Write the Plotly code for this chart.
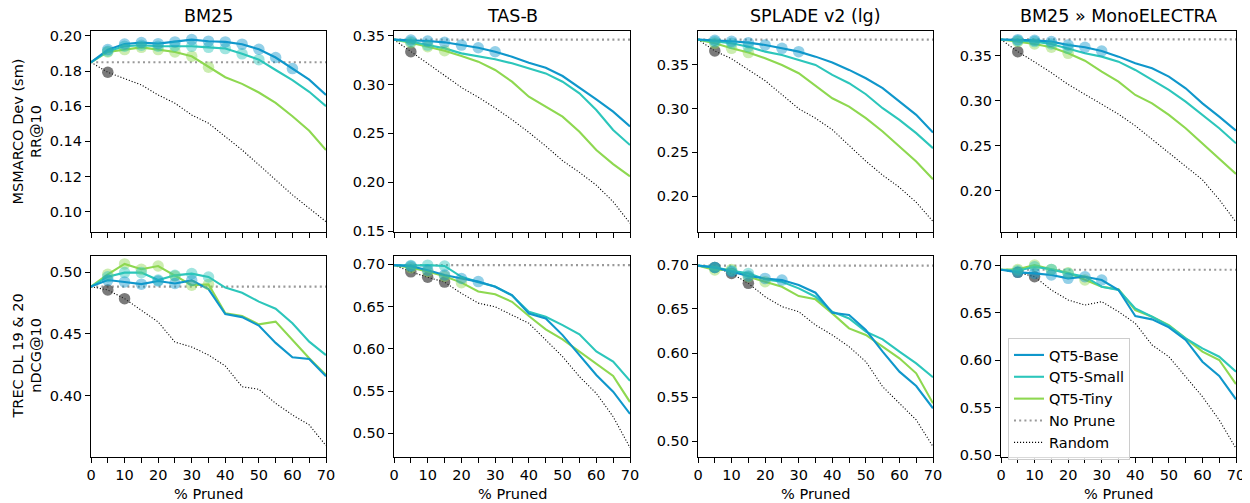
import plotly.graph_objects as go

# ---------------- data ----------------
x_pruned = [0, 5, 10, 15, 20, 25, 30, 35, 40, 45, 50, 55, 60, 65, 70]
col_titles = ["BM25", "TAS-B", "SPLADE v2 (lg)", "BM25 » MonoELECTRA"]
row_titles = ["MSMARCO Dev (sm)<br>RR@10", "TREC DL 19 & 20<br>nDCG@10"]
series_names = ["QT5-Base", "QT5-Small", "QT5-Tiny"]

# MSMARCO Dev (sm), RR@10
dev_bm25_base = [0.185, 0.1922, 0.1954, 0.1962, 0.1956, 0.1966, 0.1979, 0.197, 0.1966, 0.1953, 0.1924, 0.1877, 0.1814, 0.1751, 0.1664]
dev_bm25_small = [0.185, 0.1913, 0.1941, 0.1947, 0.1941, 0.1943, 0.1941, 0.1935, 0.1928, 0.1898, 0.1865, 0.1806, 0.1748, 0.1682, 0.1600]
dev_bm25_tiny = [0.185, 0.1909, 0.1922, 0.1935, 0.1922, 0.1909, 0.1884, 0.1822, 0.1765, 0.1727, 0.1678, 0.1619, 0.1543, 0.1460, 0.1350]
dev_bm25_random = [0.185, 0.1793, 0.1757, 0.1721, 0.1664, 0.1617, 0.1550, 0.1503, 0.1427, 0.1351, 0.1266, 0.1180, 0.1095, 0.1019, 0.0943]
dev_bm25_noprune = 0.185

dev_tasb_base = [0.346, 0.3456, 0.3445, 0.3432, 0.3404, 0.3377, 0.3336, 0.3285, 0.3224, 0.3172, 0.3087, 0.2971, 0.2848, 0.2722, 0.2570]
dev_tasb_small = [0.346, 0.3439, 0.3404, 0.3370, 0.3319, 0.3292, 0.3258, 0.3217, 0.3166, 0.3114, 0.3029, 0.2910, 0.2739, 0.2534, 0.2380]
dev_tasb_tiny = [0.346, 0.3428, 0.3387, 0.3346, 0.3292, 0.3234, 0.3149, 0.3029, 0.2875, 0.2773, 0.2671, 0.2517, 0.2329, 0.2185, 0.2060]
dev_tasb_random = [0.346, 0.3336, 0.3220, 0.3090, 0.2970, 0.2870, 0.2760, 0.2640, 0.2510, 0.2370, 0.2220, 0.2100, 0.1970, 0.1800, 0.1580]
dev_tasb_noprune = 0.346

dev_splade_base = [0.379, 0.3782, 0.3770, 0.3755, 0.3728, 0.3690, 0.3652, 0.3595, 0.3527, 0.3443, 0.3348, 0.3234, 0.3081, 0.2929, 0.2727]
dev_splade_small = [0.379, 0.3766, 0.3747, 0.3709, 0.3652, 0.3614, 0.3557, 0.3500, 0.3386, 0.3291, 0.3165, 0.3005, 0.2872, 0.2720, 0.2548]
dev_splade_tiny = [0.379, 0.3747, 0.3690, 0.3641, 0.3576, 0.3500, 0.3405, 0.3260, 0.3119, 0.3024, 0.2891, 0.2739, 0.2567, 0.2396, 0.2194]
dev_splade_random = [0.379, 0.366, 0.357, 0.345, 0.332, 0.316, 0.300, 0.289, 0.276, 0.258, 0.240, 0.224, 0.210, 0.193, 0.171]
dev_splade_noprune = 0.379

dev_mono_base = [0.368, 0.3678, 0.3670, 0.3656, 0.3619, 0.3593, 0.3552, 0.3489, 0.3415, 0.3359, 0.3267, 0.3137, 0.2970, 0.2822, 0.2667]
dev_mono_small = [0.368, 0.3667, 0.3656, 0.3630, 0.3581, 0.3526, 0.3489, 0.3433, 0.3341, 0.3230, 0.3119, 0.2989, 0.2841, 0.2693, 0.2526]
dev_mono_tiny = [0.368, 0.3656, 0.3630, 0.3593, 0.3526, 0.3444, 0.3322, 0.3211, 0.3063, 0.2970, 0.2841, 0.2693, 0.2526, 0.2359, 0.2185]
dev_mono_random = [0.368, 0.3544, 0.343, 0.331, 0.318, 0.307, 0.296, 0.285, 0.272, 0.257, 0.243, 0.228, 0.212, 0.190, 0.165]
dev_mono_noprune = 0.368

# TREC DL 19 & 20, nDCG@10
dl_bm25_base = [0.4882, 0.4935, 0.4920, 0.4902, 0.4927, 0.4907, 0.4932, 0.4862, 0.4660, 0.4636, 0.4568, 0.4428, 0.4312, 0.4298, 0.4160]
dl_bm25_small = [0.4882, 0.4962, 0.4995, 0.4995, 0.4935, 0.4973, 0.4987, 0.4960, 0.4874, 0.4833, 0.4761, 0.4704, 0.4586, 0.4438, 0.4330]
dl_bm25_tiny = [0.4882, 0.4981, 0.5065, 0.5022, 0.5048, 0.4968, 0.4893, 0.4900, 0.4667, 0.4645, 0.4578, 0.4600, 0.4452, 0.4304, 0.4170]
dl_bm25_random = [0.4882, 0.4855, 0.4785, 0.4694, 0.4597, 0.4435, 0.4395, 0.4331, 0.4242, 0.4075, 0.4054, 0.3941, 0.3847, 0.3767, 0.3600]
dl_bm25_noprune = 0.4882

dl_tasb_base = [0.699, 0.6978, 0.6930, 0.6874, 0.6832, 0.6795, 0.6733, 0.6635, 0.6418, 0.6359, 0.6162, 0.5927, 0.5690, 0.5493, 0.5230]
dl_tasb_small = [0.699, 0.6985, 0.6990, 0.6980, 0.6852, 0.6789, 0.6737, 0.6630, 0.6438, 0.6379, 0.6280, 0.6172, 0.5968, 0.5848, 0.5620]
dl_tasb_tiny = [0.699, 0.6960, 0.6915, 0.6858, 0.6783, 0.6679, 0.6645, 0.6556, 0.6388, 0.6231, 0.6112, 0.5966, 0.5828, 0.5679, 0.5370]
dl_tasb_random = [0.699, 0.6911, 0.6846, 0.6789, 0.6655, 0.6540, 0.6497, 0.6400, 0.6302, 0.6105, 0.5907, 0.5671, 0.5473, 0.5197, 0.4830]
dl_tasb_noprune = 0.699

dl_splade_base = [0.699, 0.6970, 0.6921, 0.6872, 0.6845, 0.6826, 0.6770, 0.6683, 0.6457, 0.6430, 0.6260, 0.6015, 0.5789, 0.5626, 0.5374]
dl_splade_small = [0.699, 0.6970, 0.6932, 0.6902, 0.6834, 0.6808, 0.6732, 0.6638, 0.6468, 0.6392, 0.6242, 0.6155, 0.6015, 0.5883, 0.5725]
dl_splade_tiny = [0.699, 0.6940, 0.6947, 0.6864, 0.6808, 0.6751, 0.6645, 0.6608, 0.6449, 0.6279, 0.6204, 0.6072, 0.5940, 0.5770, 0.5430]
dl_splade_random = [0.699, 0.6970, 0.6902, 0.6789, 0.6638, 0.6525, 0.6468, 0.6317, 0.6204, 0.6072, 0.5902, 0.5619, 0.5430, 0.5242, 0.4940]
dl_splade_noprune = 0.699

dl_mono_base = [0.695, 0.6923, 0.6912, 0.6895, 0.6860, 0.6877, 0.6842, 0.6737, 0.6463, 0.6428, 0.6344, 0.6211, 0.5982, 0.5832, 0.5586]
dl_mono_small = [0.695, 0.6940, 0.6982, 0.6954, 0.6912, 0.6877, 0.6772, 0.6737, 0.6544, 0.6456, 0.6358, 0.6228, 0.6123, 0.6035, 0.5877]
dl_mono_tiny = [0.695, 0.6954, 0.7000, 0.6954, 0.6919, 0.6842, 0.6772, 0.6744, 0.6526, 0.6456, 0.6368, 0.6228, 0.6088, 0.6000, 0.5747]
dl_mono_random = [0.695, 0.6923, 0.6877, 0.6737, 0.6632, 0.6579, 0.6614, 0.6509, 0.6386, 0.6158, 0.6035, 0.5825, 0.5614, 0.5368, 0.5070]
dl_mono_noprune = 0.695

# x positions (% pruned) that are highlighted with a circle (not significantly worse)
dev_bm25_marked = {"base": [5, 10, 15, 20, 25, 30, 35, 40, 45, 50, 55, 60], "small": [5, 10, 15, 20, 25, 30, 35, 40, 45, 50], "tiny": [5, 10, 15, 20, 25, 30, 35], "random": [5]}
dev_tasb_marked = {"base": [5, 10, 15, 20, 25, 30], "small": [5, 10], "tiny": [5, 10, 15], "random": [5]}
dev_splade_marked = {"base": [5, 10, 15, 20, 25, 30], "small": [5, 10, 15], "tiny": [5, 10, 15], "random": [5]}
dev_mono_marked = {"base": [5, 10, 15, 20, 25, 30], "small": [5, 10, 15, 20], "tiny": [5, 10, 15, 20], "random": [5]}
dl_bm25_marked = {"base": [5, 10, 15, 20, 25, 30], "small": [5, 10, 15, 20, 25, 30, 35], "tiny": [5, 10, 15, 20, 25, 30, 35], "random": [5, 10]}
dl_tasb_marked = {"base": [5, 10, 15, 20, 25], "small": [5, 10, 15], "tiny": [5, 10, 15, 20], "random": [5, 10, 15]}
dl_splade_marked = {"base": [5, 10, 15, 20, 25], "small": [5, 10, 15], "tiny": [5, 10, 15, 20], "random": [5, 10, 15]}
dl_mono_marked = {"base": [5, 10, 15, 20, 25, 30], "small": [5, 10, 15, 20], "tiny": [5, 10, 15, 20, 25], "random": [5, 10]}

dev_yticks = [[0.10, 0.12, 0.14, 0.16, 0.18, 0.20], [0.15, 0.20, 0.25, 0.30, 0.35], [0.20, 0.25, 0.30, 0.35], [0.20, 0.25, 0.30, 0.35]]
dl_yticks = [[0.40, 0.45, 0.50], [0.50, 0.55, 0.60, 0.65, 0.70], [0.50, 0.55, 0.60, 0.65, 0.70], [0.50, 0.55, 0.60, 0.65, 0.70]]
xtick_labels = ["0", "", "10", "", "20", "", "30", "", "40", "", "50", "", "60", "", "70"]

panels = [
    (dev_bm25_base, dev_bm25_small, dev_bm25_tiny, dev_bm25_random, dev_bm25_noprune, dev_bm25_marked),
    (dev_tasb_base, dev_tasb_small, dev_tasb_tiny, dev_tasb_random, dev_tasb_noprune, dev_tasb_marked),
    (dev_splade_base, dev_splade_small, dev_splade_tiny, dev_splade_random, dev_splade_noprune, dev_splade_marked),
    (dev_mono_base, dev_mono_small, dev_mono_tiny, dev_mono_random, dev_mono_noprune, dev_mono_marked),
    (dl_bm25_base, dl_bm25_small, dl_bm25_tiny, dl_bm25_random, dl_bm25_noprune, dl_bm25_marked),
    (dl_tasb_base, dl_tasb_small, dl_tasb_tiny, dl_tasb_random, dl_tasb_noprune, dl_tasb_marked),
    (dl_splade_base, dl_splade_small, dl_splade_tiny, dl_splade_random, dl_splade_noprune, dl_splade_marked),
    (dl_mono_base, dl_mono_small, dl_mono_tiny, dl_mono_random, dl_mono_noprune, dl_mono_marked),
]
yticks_all = dev_yticks + dl_yticks

# ---------------- style / layout ----------------
VIEW_W, VIEW_H = 1250, 503
OFF = 8  # default page margin around the plot div
W, H = VIEW_W - OFF, VIEW_H - OFF
FONT = "DejaVu Sans"
FS = 14.5
colors = {"base": "#0f97cb", "small": "#2cc6bb", "tiny": "#8ed850"}
NOPRUNE_LINE = dict(color="#999999", width=2.2, dash="2px,3.2px")
RANDOM_LINE = dict(color="black", width=1.1, dash="1.1px,1.9px")
col_px = [(91, 326), (394, 630), (698, 933), (1001, 1236)]   # in window pixels
row_px = [(31, 232), (256, 457)]
y_ranges = [[0.0884, 0.2028], [0.149, 0.3548], [0.159, 0.3888], [0.154, 0.3774],
            [0.3508, 0.5129], [0.472, 0.7098], [0.4822, 0.7099], [0.4979, 0.7095]]


def px_x(p):
    return (p - OFF) / W


def px_y(p):
    return 1 - (p - OFF) / H


fig = go.Figure()
layout_axes = {}

for i, (base, small, tiny, rnd, nop, marked) in enumerate(panels):
    r, c = divmod(i, 4)
    ax = "" if i == 0 else str(i + 1)
    xref, yref = "x" + ax, "y" + ax
    first = i == 0

    # No prune reference
    fig.add_trace(go.Scatter(x=[x_pruned[0], x_pruned[-1]], y=[nop, nop], mode="lines",
                             line=NOPRUNE_LINE, name="No Prune", showlegend=False,
                             xaxis=xref, yaxis=yref, hoverinfo="skip"))
    # Random
    fig.add_trace(go.Scatter(x=x_pruned, y=rnd, mode="lines", line=RANDOM_LINE,
                             name="Random", showlegend=False, xaxis=xref, yaxis=yref))
    mx = [x for x in x_pruned if x in marked["random"]]
    my = [rnd[x_pruned.index(x)] for x in mx]
    fig.add_trace(go.Scatter(x=mx, y=my, mode="markers",
                             marker=dict(color="#333333", size=11.5, opacity=0.65, line=dict(width=0)),
                             showlegend=False, xaxis=xref, yaxis=yref))

    for key, vals, name, rank in [("tiny", tiny, "QT5-Tiny", 3), ("small", small, "QT5-Small", 2), ("base", base, "QT5-Base", 1)]:
        fig.add_trace(go.Scatter(x=x_pruned, y=vals, mode="lines",
                                 line=dict(color=colors[key], width=2.1),
                                 name=name, showlegend=first, legendrank=rank,
                                 xaxis=xref, yaxis=yref))
    for key, vals in [("tiny", tiny), ("small", small), ("base", base)]:
        mx = [x for x in x_pruned if x in marked[key]]
        my = [vals[x_pruned.index(x)] for x in mx]
        fig.add_trace(go.Scatter(x=mx, y=my, mode="markers",
                                 marker=dict(color=colors[key], size=11.5, opacity=0.45, line=dict(width=0)),
                                 showlegend=False, xaxis=xref, yaxis=yref))

    x0, x1 = col_px[c]
    y0, y1 = row_px[r]
    common = dict(showline=True, linecolor="black", linewidth=1.1, mirror=True,
                  ticks="outside", ticklen=5, tickwidth=1.1, tickcolor="black",
                  showgrid=False, zeroline=False, automargin=False,
                  tickfont=dict(family=FONT, size=FS, color="black"))
    layout_axes["xaxis" + ax] = dict(common, domain=[px_x(x0), px_x(x1)], range=[0, 70],
                                     tickmode="array", tickvals=x_pruned,
                                     ticktext=xtick_labels if r == 1 else [""] * len(x_pruned),
                                     anchor=yref)
    layout_axes["yaxis" + ax] = dict(common, domain=[px_y(y1), px_y(y0)], range=y_ranges[i],
                                     tickmode="array", tickvals=yticks_all[i],
                                     ticktext=["%.2f" % v for v in yticks_all[i]],
                                     anchor=xref)

# legend entries for reference lines
fig.add_trace(go.Scatter(x=[None], y=[None], mode="lines", line=NOPRUNE_LINE, name="No Prune", legendrank=4))
fig.add_trace(go.Scatter(x=[None], y=[None], mode="lines", line=RANDOM_LINE, name="Random", legendrank=5))

annotations = []
for c, t in enumerate(col_titles):
    x0, x1 = col_px[c]
    annotations.append(dict(text=t, x=px_x((x0 + x1) / 2), y=px_y(row_px[0][0]), xref="paper", yref="paper",
                            xanchor="center", yanchor="bottom", yshift=3, showarrow=False,
                            font=dict(family=FONT, size=17.5, color="black")))
for r, t in enumerate(row_titles):
    y0, y1 = row_px[r]
    annotations.append(dict(text=t, x=px_x(27), y=px_y((y0 + y1) / 2), xref="paper", yref="paper",
                            xanchor="center", yanchor="middle", textangle=-90, showarrow=False,
                            font=dict(family=FONT, size=FS, color="black")))
for c in range(4):
    x0, x1 = col_px[c]
    annotations.append(dict(text="% Pruned", x=px_x((x0 + x1) / 2), y=px_y(494), xref="paper", yref="paper",
                            xanchor="center", yanchor="middle", showarrow=False,
                            font=dict(family=FONT, size=FS, color="black")))

fig.update_layout(
    width=W, height=H, margin=dict(l=0, r=0, t=0, b=0),
    plot_bgcolor="white", paper_bgcolor="white",
    font=dict(family=FONT, size=FS, color="black"),
    annotations=annotations,
    legend=dict(x=px_x(1008), y=px_y(338), xanchor="left", yanchor="top",
                bgcolor="rgba(255,255,255,0.85)", bordercolor="#cccccc", borderwidth=1,
                font=dict(family=FONT, size=FS, color="black"), tracegroupgap=0,
                itemwidth=30, traceorder="normal"),
    **layout_axes,
)

fig.write_html("out.html")
